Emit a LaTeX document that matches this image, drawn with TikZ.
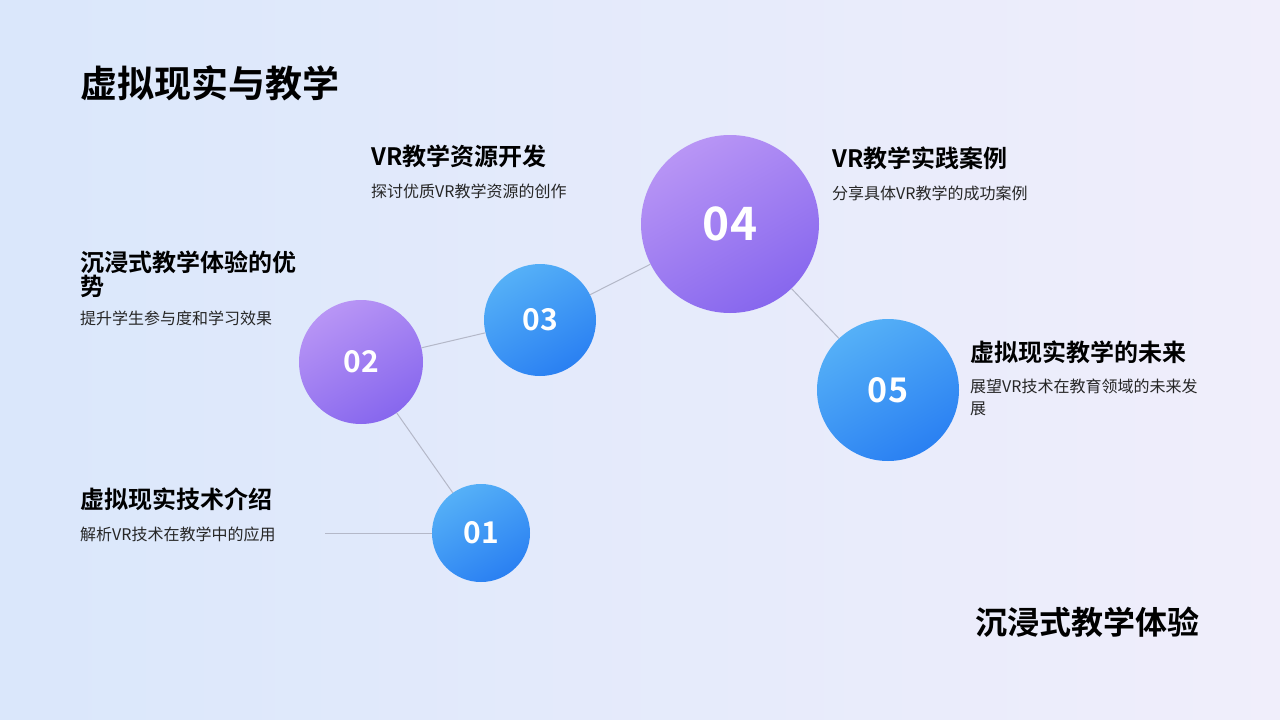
\documentclass[tikz,border=0pt]{standalone}
\usepackage{fontspec}
\setmainfont{Noto Sans CJK SC}
\newfontfamily\cjkbold{Noto Sans CJK SC Bold}
\usetikzlibrary{calc}
\definecolor{bgA}{HTML}{DAE7FB}
\definecolor{bgB}{HTML}{F0EEFB}
\definecolor{blueA}{HTML}{55B0F7}
\definecolor{blueB}{HTML}{2A80F2}
\definecolor{purA}{HTML}{B895F5}
\definecolor{purB}{HTML}{8767EE}
\definecolor{linkgray}{HTML}{B4B8C8}
\tikzset{
  bluedot/.style={circle,inner sep=0pt,top color=blueA,bottom color=blueB,shading angle=30,text=white,font=\cjkbold\fontsize{30}{30}\selectfont},
  purdot/.style={circle,inner sep=0pt,top color=purA,bottom color=purB,shading angle=30,text=white,font=\cjkbold\fontsize{30}{30}\selectfont},
  link/.style={linkgray,line width=1pt},
  head/.style={anchor=north west,inner sep=0pt,font=\cjkbold\fontsize{24}{24}\selectfont,align=left},
  sub/.style={anchor=north west,inner sep=0pt,font=\fontsize{16}{22}\selectfont,text=black!85,align=left}
}
\begin{document}
\begin{tikzpicture}[x=1pt,y=-1pt]
  \path[left color=bgA,right color=bgB] (0,0) rectangle (1280,720);
  \useasboundingbox (0,0) rectangle (1280,720);

  \node[anchor=west,inner sep=0pt,font=\cjkbold\fontsize{37}{37}\selectfont] (title) at (80,83) {虚拟现实与教学};
  \node[anchor=east,inner sep=0pt,font=\cjkbold\fontsize{32}{32}\selectfont] (tag) at (1200,622) {沉浸式教学体验};

  % circles
  \node[bluedot,minimum size=98pt] (n01) at (481,533) {01};
  \node[purdot,minimum size=124pt] (n02) at (361,362) {02};
  \node[bluedot,minimum size=112pt] (n03) at (540,320) {03};
  \node[purdot,minimum size=178pt,font=\cjkbold\fontsize{46}{46}\selectfont] (n04) at (730,224) {04};
  \node[bluedot,minimum size=142pt,font=\cjkbold\fontsize{34}{34}\selectfont] (n05) at (888,390) {05};

  \coordinate (start) at (325,533);
  \draw[link] (start) -- (n01);
  \draw[link] (n01) -- (n02);
  \draw[link] (n02) -- (n03);
  \draw[link] (n03) -- (n04);
  \draw[link] (n04) -- (n05);

  % labels
  \node[head] (h01) at (80,488) {虚拟现实技术介绍};
  \node[sub] (s01) at (80,527) {解析VR技术在教学中的应用};
  \node[head] (h02) at (80,251) {沉浸式教学体验的优\\势};
  \node[sub] (s02) at (80,311) {提升学生参与度和学习效果};
  \node[head] (h03) at (371,145) {VR教学资源开发};
  \node[sub] (s03) at (371,184) {探讨优质VR教学资源的创作};
  \node[head] (h04) at (832,147) {VR教学实践案例};
  \node[sub] (s04) at (832,186) {分享具体VR教学的成功案例};
  \node[head] (h05) at (970,341) {虚拟现实教学的未来};
  \node[sub] (s05) at (970,379) {展望VR技术在教育领域的未来发\\展};
\end{tikzpicture}
\end{document}
